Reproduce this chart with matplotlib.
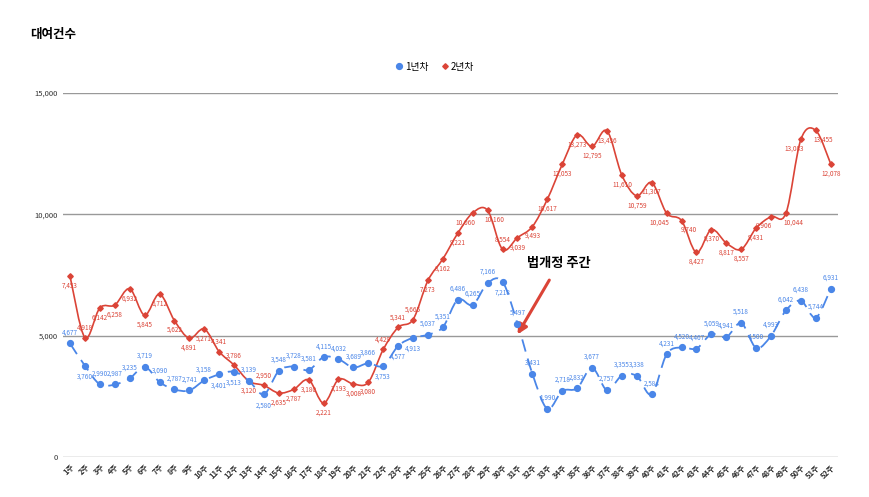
import matplotlib.pyplot as plt
import numpy as np
from matplotlib.path import Path
from matplotlib.patches import PathPatch

plt.rcParams['font.family'] = ['Noto Sans CJK KR', 'DejaVu Sans']

weeks = [f"{i}주" for i in range(1, 53)]
year1 = [4677, 3760, 2990, 2987, 3235, 3719, 3090, 2787, 2741, 3158,
         3401, 3513, 3139, 2580, 3548, 3728, 3581, 4115, 4032, 3689,
         3866, 3753, 4577, 4913, 5037, 5351, 6486, 6265, 7166, 7218,
         5497, 3431, 1990, 2718, 2832, 3677, 2757, 3355, 3338, 2584,
         4231, 4520, 4467, 5059, 4941, 5518, 4500, 4993, 6042, 6438,
         5744, 6931]
year2 = [7453, 4918, 6142, 6258, 6932, 5845, 6712, 5622, 4891, 5271,
         4341, 3786, 3120, 2950, 2635, 2787, 3180, 2221, 3193, 3008,
         3080, 4429, 5341, 5665, 7273, 8162, 9221, 10060, 10160, 8554,
         9039, 9493, 10617, 12053, 13273, 12795, 13436, 11610, 10759, 11307,
         10045, 9740, 8427, 9370, 8817, 8557, 9431, 9906, 10044, 13083,
         13455, 12078]

BLUE = '#4a86e8'
RED = '#db4437'


def smooth_path(xs, ys, t=1.0):
    # catmull-rom -> cubic bezier, drawn in data coordinates
    xs = np.asarray(xs, float)
    ys = np.asarray(ys, float)
    n = len(xs)
    verts = [(xs[0], ys[0])]
    codes = [Path.MOVETO]
    for i in range(n - 1):
        p0 = (xs[max(i - 1, 0)], ys[max(i - 1, 0)])
        p1 = (xs[i], ys[i])
        p2 = (xs[i + 1], ys[i + 1])
        p3 = (xs[min(i + 2, n - 1)], ys[min(i + 2, n - 1)])
        c1 = (p1[0] + (p2[0] - p0[0]) / 6 * t, p1[1] + (p2[1] - p0[1]) / 6 * t)
        c2 = (p2[0] - (p3[0] - p1[0]) / 6 * t, p2[1] - (p3[1] - p1[1]) / 6 * t)
        verts += [c1, c2, p2]
        codes += [Path.CURVE4] * 3
    return Path(verts, codes)


fig = plt.figure(figsize=(8.69, 4.97), dpi=100)
ax = fig.add_axes([0.0725, 0.0805, 0.8915, 0.7325])

x = np.arange(1, 53)

ax.add_patch(PathPatch(smooth_path(x, year2), facecolor='none', edgecolor=RED, lw=1.2, zorder=3))
ax.add_patch(PathPatch(smooth_path(x, year1), facecolor='none', edgecolor=BLUE, lw=1.3,
                       linestyle=(0, (7, 4)), zorder=3))
ax.plot(x, year2, linestyle='none', marker='D', markersize=2.8, color=RED, zorder=4, label='2년차')
ax.plot(x, year1, linestyle='none', marker='o', markersize=4.2, color=BLUE, zorder=4, label='1년차')

# red labels of neighbouring wide values get pushed apart sideways
red_dx = [0] * len(year2)
for i in range(len(year2) - 1):
    a, b = year2[i], year2[i + 1]
    if abs(a - b) < 400 and max(a, b) >= 10000:
        red_dx[i] -= 5
        red_dx[i + 1] += 5

# data labels: flip sides where the two series run close together
for i, (xi, v1, v2) in enumerate(zip(x, year1, year2)):
    close = 0 < v2 - v1 < 1600
    if close:
        b_off, b_va = (0, -5), 'top'
        r_off, r_va = (red_dx[i], 4), 'bottom'
    else:
        b_off, b_va = (0, 5), 'bottom'
        r_off, r_va = (red_dx[i], -4), 'top'
    ax.annotate(f"{v1:,}", (xi, v1), xytext=b_off, textcoords='offset points',
                ha='center', va=b_va, fontsize=4.6, color=BLUE, zorder=5)
    ax.annotate(f"{v2:,}", (xi, v2), xytext=r_off, textcoords='offset points',
                ha='center', va=r_va, fontsize=4.6, color=RED, zorder=5)

ax.set_xlim(0.53, 52.47)
ax.set_ylim(0, 15000)
ax.set_yticks([0, 5000, 10000, 15000])
ax.set_yticklabels(['0', '5,000', '10,000', '15,000'], fontsize=5.5, color='#333333')
ax.grid(axis='y', color='#999999', lw=1)
ax.set_axisbelow(True)
ax.set_xticks(x)
ax.set_xticklabels(weeks, rotation=45, ha='right', rotation_mode='anchor', fontsize=5.5,
                   fontweight='bold', color='#333333')
ax.tick_params(length=0, pad=4)
for s in ax.spines.values():
    s.set_visible(False)

ax.annotate('법개정 주간', xy=(31, 5050), xytext=(33.8, 7700), fontsize=9.5, fontweight='bold',
            ha='center', va='bottom', color='black',
            arrowprops=dict(arrowstyle='-|>', color=RED, lw=2.2, mutation_scale=14,
                            shrinkA=6, shrinkB=0))

handles, labels = ax.get_legend_handles_labels()
fig.legend(handles[::-1], labels[::-1], loc='center', bbox_to_anchor=(0.5, 0.866), ncol=2,
           frameon=False, fontsize=7, handletextpad=0.1, columnspacing=1.2, handlelength=1.0)

fig.text(0.035, 0.93, '대여건수', fontsize=9, fontweight='bold', ha='left', va='center')

fig.savefig('out.png', dpi=100, facecolor='white')
